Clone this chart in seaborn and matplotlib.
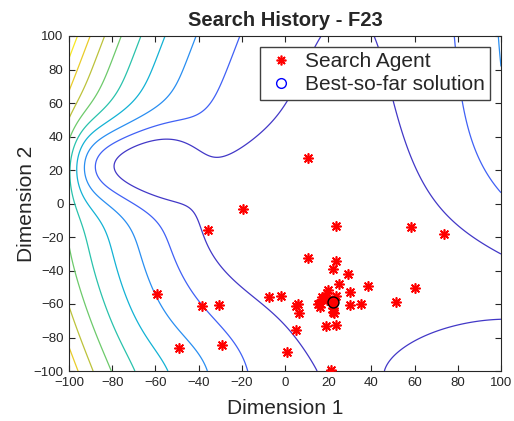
import numpy as np
import matplotlib
matplotlib.use("Agg")
import matplotlib.pyplot as plt
from matplotlib.colors import LinearSegmentedColormap, Normalize
from matplotlib.lines import Line2D
import seaborn as sns

# search agents (final positions) and the best solution found
agent_x = [-19.4, -35.7, -59.4, -38.5, -30.6, -7.5, -1.8, -49.2, -29.0, 10.8,
           23.6, 58.3, 73.5, 10.5, 23.4, 22.2, 29.0, 24.8, 38.6, 60.0,
           29.9, 20.1, 5.9, 5.1, 6.5, 15.2, 16.0, 17.4, 18.6, 19.4,
           22.0, 22.0, 23.6, 29.9, 35.3, 51.2, 19.1, 23.6, 5.1, 1.1,
           21.1, 16.0, 17.0, 19.4, 22.8, 22.2]
agent_y = [-3.5, -15.8, -54.2, -61.2, -60.8, -55.8, -55.3, -86.4, -84.5, 27.0,
           -13.4, -14.2, -18.2, -32.8, -34.5, -39.3, -42.3, -47.9, -49.3, -50.3,
           -53.0, -51.6, -60.0, -61.2, -65.2, -60.0, -62.0, -57.2, -55.6, -53.6,
           -64.6, -62.2, -55.2, -60.8, -60.2, -59.0, -73.0, -72.4, -75.5, -88.8,
           -99.4, -59.6, -55.6, -57.6, -65.6, -59.0]
best_x = [22.2]
best_y = [-59.0]

contour_levels = [1, 2, 3, 4, 5, 6, 7, 8, 9]
tick_values = [-100, -80, -60, -40, -20, 0, 20, 40, 60, 80, 100]


def landscape(x, y):
    """Objective surface F23 on [-100, 100]^2."""
    # steep rim on the left, bent along y
    x0 = -22.0 + 0.31 * np.sqrt((y + 10.0) ** 2 + 35.0 ** 2)
    rim = np.exp(-(x - x0) / 50.0)
    # rise towards the upper right
    k = 0.0181 / (1.0 + np.exp(-(y + 35.0) / 30.0))
    ramp = (k * 8.0 * np.logaddexp(0.0, (x - 5.0) / 8.0)) ** 2
    # bump in the lower right corner
    corner = 1.55 * np.exp(-((x - 100.0) / 52.0) ** 2 - ((y + 100.0) / 34.4) ** 2)
    # shoulder along the bottom edge
    shoulder = 0.62 * np.exp(-((x + 42.0) / 32.0) ** 2 - ((y + 100.0) / 30.0) ** 2)
    # channel reaching in from the left
    channel = (3.25 / (1.0 + np.exp(-(x + 98.0) / 4.0))
               / (1.0 + np.exp((x + 47.0) / 7.0))
               * np.exp(-((y - 24.0) / 24.0) ** 2))
    # broad dip around the centre
    dip = np.exp(-((x + 15.0) / 40.0) ** 2 - ((y + 10.0) / 40.0) ** 2)
    return rim + ramp + corner + shoulder - channel - dip


parula = LinearSegmentedColormap.from_list("parula", [
    (0.2422, 0.1504, 0.6603),
    (0.2810, 0.3228, 0.9579),
    (0.1786, 0.5289, 0.9682),
    (0.0689, 0.6948, 0.8394),
    (0.1717, 0.7670, 0.6554),
    (0.5044, 0.7993, 0.3480),
    (0.8634, 0.7406, 0.1596),
    (0.9676, 0.8639, 0.1643),
    (0.9769, 0.9839, 0.0805),
])

sns.set_theme(style="white")
plt.rcParams["font.family"] = ["Liberation Sans", "DejaVu Sans"]
plt.rcParams["axes.edgecolor"] = "#262626"
plt.rcParams["axes.linewidth"] = 0.8

fig, ax = plt.subplots(figsize=(5.14, 4.21), dpi=100)
fig.subplots_adjust(left=69 / 514, right=501 / 514, bottom=50 / 421, top=385 / 421)

gx = np.linspace(-100, 100, 401)
gy = np.linspace(-100, 100, 401)
GX, GY = np.meshgrid(gx, gy)
Z = landscape(GX, GY)
ax.contour(GX, GY, Z, levels=contour_levels, cmap=parula,
           norm=Normalize(0.5, Z.max()), linewidths=0.9)

sns.scatterplot(x=agent_x, y=agent_y, ax=ax, marker=(8, 2, 0), s=45,
                color="red", linewidth=1.2, zorder=3, legend=False)
sns.scatterplot(x=best_x, y=best_y, ax=ax, marker="o", s=62,
                color="red", edgecolor="black", linewidth=1.0, zorder=4,
                legend=False)

ax.set_xlim(-100, 100)
ax.set_ylim(-100, 100)
ax.set_xticks(tick_values)
ax.set_yticks(tick_values)
ax.tick_params(direction="in", length=4, width=0.8, top=True, right=True,
               bottom=True, left=True, labelsize=9.5, colors="#262626",
               pad=4)

ax.set_title("Search History - F23", fontsize=14.5, fontweight="bold", pad=7)
ax.set_xlabel("Dimension 1", fontsize=15, labelpad=7.5, color="#262626")
ax.set_ylabel("Dimension 2", fontsize=15, labelpad=-2, color="#262626")

handles = [
    Line2D([], [], linestyle="none", marker=(8, 2, 0), color="red",
           markersize=7, markeredgewidth=1.2),
    Line2D([], [], linestyle="none", marker="o", markerfacecolor="none",
           markeredgecolor="blue", markersize=7, markeredgewidth=1.0),
]
leg = ax.legend(handles, ["Search Agent", "Best-so-far solution"],
                loc="upper right", bbox_to_anchor=(0.9745, 0.967),
                borderaxespad=0, fontsize=15, frameon=True, fancybox=False,
                framealpha=1, edgecolor="#404040", handlelength=1.5,
                handletextpad=0.4, borderpad=0.25, labelspacing=0.2)
leg.get_frame().set_linewidth(1.0)

fig.savefig("out.png", dpi=100)
